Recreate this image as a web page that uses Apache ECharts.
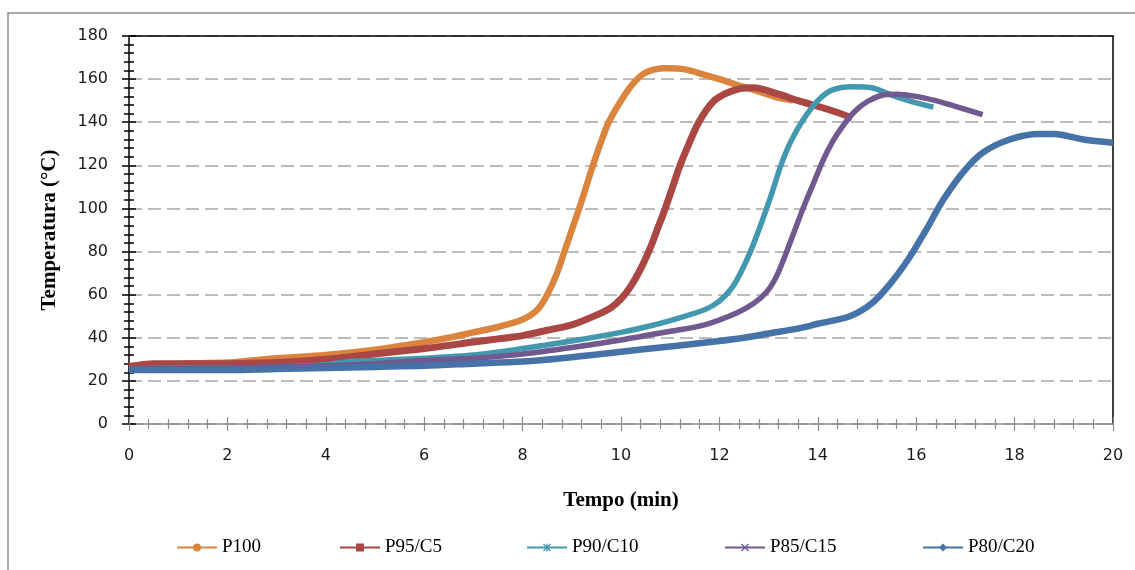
<!DOCTYPE html>
<html>
<head>
<meta charset="utf-8">
<script src="https://cdn.jsdelivr.net/npm/echarts@6/dist/echarts.min.js"></script>
<style>html,body{margin:0;padding:0;background:#fff;}#c{width:1135px;height:570px;}</style>
</head>
<body>
<div id="c"></div>
<script>
// ---- data: [tempo (min), temperatura (°C)] ----
const seriesNames = ['P100', 'P95/C5', 'P90/C10', 'P85/C15', 'P80/C20'];
const xTicks = [0, 2, 4, 6, 8, 10, 12, 14, 16, 18, 20];
const yTicks = [0, 20, 40, 60, 80, 100, 120, 140, 160, 180];

const p100 = [[0,27],[1,28],[2,28.5],[2.5,29.5],[3,30.5],[4,32],[5,34.5],[6,38],[6.6,40.5],[7,42.5],[7.5,45],[8,48.5],[8.3,53],[8.5,60],[8.7,70],[8.85,80],[9.0,90],[9.15,100],[9.29,110],[9.43,120],[9.58,130],[9.75,140],[10.0,150],[10.25,158],[10.5,163],[10.9,165],[11.3,164.5],[11.7,162],[12.0,160],[12.4,157],[12.7,155],[13.1,152],[13.5,150]];
const p95c5 = [[0,26.5],[0.5,28],[1,28],[2,28],[3,28.5],[4,30],[5,32.5],[6,35],[7,38],[7.5,39.5],[8,41],[8.5,43.5],[9,46],[9.5,50.5],[9.8,54],[10.0,58],[10.2,64],[10.4,72],[10.6,82],[10.75,91],[10.9,100],[11.05,110],[11.2,120],[11.38,130],[11.58,140],[11.85,149],[12.1,153],[12.4,155.5],[12.7,156],[13.2,153],[13.6,150],[14.2,146],[14.7,142]];
const p90c10 = [[0,25.5],[1,26],[2,26],[3,26.5],[4,27.5],[4.5,29],[5,29.5],[6,30.5],[7,32],[8,35],[9,38.5],[10,42.5],[10.5,45],[11,48],[11.7,53],[12.0,57],[12.25,63],[12.45,71],[12.65,81],[12.85,93],[13.05,106],[13.25,120],[13.45,131],[13.7,141],[14.0,150],[14.3,155],[14.7,156.5],[15.1,156],[15.4,153.5],[15.7,151],[16.0,149],[16.35,147]];
const p85c15 = [[0,25.5],[2,26],[4,27],[5,28],[6,29.5],[7,30.5],[8,32.5],[9,35.5],[10,39],[11,43],[11.7,46],[12.35,51.5],[12.7,56],[12.95,61],[13.15,68],[13.3,76],[13.5,88],[13.7,100],[13.9,111],[14.1,122],[14.3,131],[14.5,138],[14.75,145],[15.0,149.5],[15.3,152.5],[15.6,153],[16.0,152],[16.4,150],[16.7,148],[17.0,146],[17.35,143.5]];
const p80c20 = [[0,25],[1,25],[2,25],[3,25.5],[4,26],[5,26.5],[6,27],[7,28],[8,29],[9,31],[10,33.5],[11,36],[12,38.5],[12.5,40],[13,42],[13.64,44.5],[14,46.5],[14.65,50],[15.1,56],[15.47,65],[15.87,77.5],[16.2,90],[16.55,104],[16.96,117],[17.36,126],[17.9,132],[18.5,134.5],[18.8,134.5],[19.4,132],[20,130.5]];

const seriesData = [p100, p95c5, p90c10, p85c15, p80c20];
const colors = ['#DB843D', '#AA4643', '#4198AF', '#71588F', '#4572A7'];
const widths = [6.5, 7, 5.5, 5.5, 6.5];
const symbols = [
  'circle',
  'rect',
  'path://M4.2,0 L5.8,0 L5.8,10 L4.2,10 Z M0,1.1 L1.1,0 L5,3.9 L8.9,0 L10,1.1 L6.1,5 L10,8.9 L8.9,10 L5,6.1 L1.1,10 L0,8.9 L3.9,5 Z',
  'path://M0,1.1 L1.1,0 L5,3.9 L8.9,0 L10,1.1 L6.1,5 L10,8.9 L8.9,10 L5,6.1 L1.1,10 L0,8.9 L3.9,5 Z',
  'diamond'
];
const legendLefts = [176, 339, 526, 724, 922];

const chart = echarts.init(document.getElementById('c'), null, {renderer: 'canvas'});
const labelFont = {fontFamily: 'DejaVu Sans', fontSize: 16, color: '#1a1a1a'};

const option = {
  animation: false,
  backgroundColor: '#fff',
  color: colors,
  grid: {left: 129, right: 22, top: 36, bottom: 146, containLabel: false},
  graphic: [{
    type: 'rect', shape: {x: 8, y: 13, width: 1140, height: 570},
    style: {fill: 'none', stroke: '#8c8c8c', lineWidth: 1.5}, silent: true, z: -10
  }],
  legend: seriesNames.map((n, i) => ({
    data: [n], left: legendLefts[i], top: 538, padding: 0, itemWidth: 40, itemHeight: 10, itemGap: 0,
    textStyle: {fontFamily: 'Liberation Serif', fontSize: 19, color: '#000'},
    selectedMode: false
  })),
  xAxis: [
    {
      type: 'value', position: 'bottom', min: 0, max: 20, interval: 2,
      axisLine: {show: true, onZero: false, lineStyle: {color: '#8c8c8c', width: 1.5}},
      axisTick: {show: true, inside: false, length: 7, lineStyle: {color: '#8c8c8c', width: 1.2}},
      minorTick: {show: true, splitNumber: 5, length: 5, lineStyle: {color: '#8c8c8c', width: 1.2}},
      axisLabel: Object.assign({margin: 24, formatter: v => xTicks.includes(v) ? String(v) : ''}, labelFont),
      splitLine: {show: false},
      name: 'Tempo (min)', nameLocation: 'middle', nameGap: 66,
      nameTextStyle: {fontFamily: 'Liberation Serif', fontWeight: 'bold', fontSize: 21, color: '#000'}
    },
    {
      type: 'value', position: 'bottom', min: 0, max: 20, interval: 2,
      axisLine: {show: false, onZero: false},
      axisTick: {show: true, inside: true, length: 7, lineStyle: {color: '#8c8c8c', width: 1.2}},
      minorTick: {show: true, splitNumber: 5, length: 5, lineStyle: {color: '#8c8c8c', width: 1.2}},
      axisLabel: {show: false}, splitLine: {show: false}
    },
    {
      type: 'value', position: 'top', min: 0, max: 20, interval: 2,
      axisLine: {show: true, onZero: false, lineStyle: {color: '#000', width: 1.5}},
      axisTick: {show: false}, axisLabel: {show: false}, splitLine: {show: false}
    }
  ],
  yAxis: [
    {
      type: 'value', position: 'left', min: 0, max: 180, interval: 20,
      axisLine: {show: true, onZero: false, lineStyle: {color: '#000', width: 1.5}},
      axisTick: {show: true, inside: false, length: 7, lineStyle: {color: '#000', width: 1.5}},
      minorTick: {show: true, splitNumber: 5, length: 5, lineStyle: {color: '#000', width: 1.5}},
      axisLabel: Object.assign({margin: 21, formatter: v => yTicks.includes(v) ? String(v) : ''}, labelFont),
      splitLine: {show: true, lineStyle: {color: '#a6a6a6', width: 1.5, type: [13, 6]}},
      name: 'Temperatura (°C)', nameLocation: 'middle', nameGap: 69, nameRotate: 90,
      nameTextStyle: {fontFamily: 'Liberation Serif', fontWeight: 'bold', fontSize: 21, color: '#000'}
    },
    {
      type: 'value', position: 'left', min: 0, max: 180, interval: 20,
      axisLine: {show: false, onZero: false},
      axisTick: {show: true, inside: true, length: 7, lineStyle: {color: '#000', width: 1.5}},
      minorTick: {show: true, splitNumber: 5, length: 5, lineStyle: {color: '#000', width: 1.5}},
      axisLabel: {show: false}, splitLine: {show: false}
    },
    {
      type: 'value', position: 'right', min: 0, max: 180, interval: 20,
      axisLine: {show: true, onZero: false, lineStyle: {color: '#000', width: 1.5}},
      axisTick: {show: false}, axisLabel: {show: false}, splitLine: {show: false}
    }
  ],
  series: seriesNames.map((n, i) => ({
    name: n, type: 'line', xAxisIndex: 0, yAxisIndex: 0,
    data: seriesData[i], smooth: 0.3,
    symbol: symbols[i], showSymbol: false,
    lineStyle: {color: colors[i], width: widths[i]},
    itemStyle: {color: colors[i]},
    clip: true
  }))
};
chart.setOption(option);
</script>
</body>
</html>
